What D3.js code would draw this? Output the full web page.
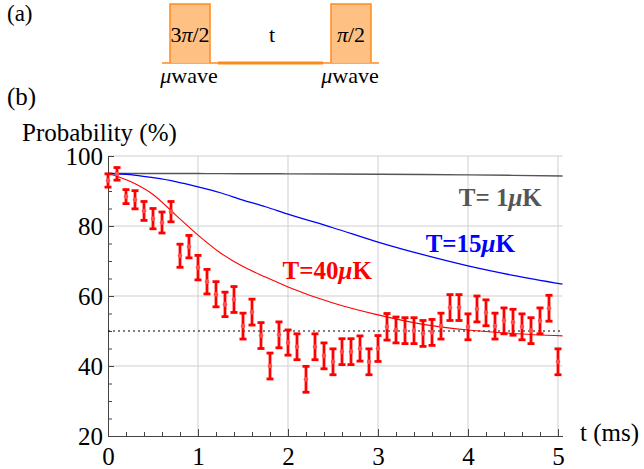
<!DOCTYPE html>
<html>
<head>
<meta charset="utf-8">
<script src="https://cdn.jsdelivr.net/npm/d3@7"></script>
</head>
<body style="margin:0">
<svg id="chart" width="644" height="469"></svg>
<script>
// measured points (t in ms, probability in %)
const times = [0, 0.1, 0.2, 0.3, 0.4, 0.5, 0.6, 0.7, 0.8, 0.9,
    1.0, 1.1, 1.2, 1.3, 1.4, 1.5, 1.6, 1.7, 1.8, 1.9,
    2.0, 2.1, 2.2, 2.3, 2.4, 2.5, 2.6, 2.7, 2.8, 2.9,
    3.0, 3.1, 3.2, 3.3, 3.4, 3.5, 3.6, 3.7, 3.8, 3.9,
    4.0, 4.1, 4.2, 4.3, 4.4, 4.5, 4.6, 4.7, 4.8, 4.9, 5.0];
const probability = [93.0, 94.9, 88.4, 87.5, 84.3, 82.1, 81.0, 84.1, 71.5, 74.1,
    68.1, 64.1, 60.5, 57.6, 59.0, 51.4, 55.4, 48.7, 40.0, 48.9,
    46.7, 45.5, 36.2, 45.5, 42.9, 41.2, 44.1, 44.1, 45.0, 41.2,
    45.0, 51.2, 50.3, 50.1, 50.1, 49.3, 49.6, 51.4, 56.7, 56.7,
    51.2, 56.3, 55.2, 51.4, 52.9, 52.5, 51.2, 50.1, 52.9, 56.5, 41.2];
const errors = [1.9, 1.8, 2.0, 2.6, 2.7, 2.9, 3.0, 2.9, 3.3, 3.2,
    3.5, 3.5, 3.6, 3.5, 3.7, 3.7, 3.7, 3.7, 3.7, 3.7,
    3.6, 3.7, 3.7, 3.7, 3.7, 3.7, 3.7, 3.7, 3.6, 3.7,
    3.7, 3.8, 3.7, 3.7, 3.7, 3.7, 3.7, 3.7, 3.7, 3.7,
    3.7, 3.7, 3.7, 3.7, 3.7, 3.7, 3.7, 3.7, 3.7, 3.7, 3.7];

// model curves
const curveTimes = [0, 0.25, 0.5, 0.75, 1, 1.25, 1.5, 1.75, 2, 2.5, 3, 3.5, 4, 4.5, 5.05];
const curve1uK = [95.0, 95.0, 95.0, 94.99, 94.98, 94.97, 94.95, 94.92, 94.9, 94.85, 94.78, 94.7, 94.6, 94.47, 94.3];
const curve15uK = [95.0, 94.7, 93.8, 92.7, 91.2, 89.5, 87.4, 85.5, 83.4, 79.5, 75.4, 71.8, 68.6, 65.9, 63.4];
const curve40uK = [95.0, 92.7, 89.0, 83.2, 77.4, 72.3, 68.4, 65.4, 62.6, 58.0, 54.6, 51.9, 50.3, 49.3, 48.6];

const xTicks = [0, 1, 2, 3, 4, 5];
const yTicks = [20, 40, 60, 80, 100];
const yGrid = [40, 60, 80, 100];
const xGrid = [1, 2, 3, 4, 5];

const FONT = "\"Times New Roman\", \"Liberation Serif\", \"Nimbus Roman\", FreeSerif";
const FS = 25;

function draw() {
    const svg = d3.select("#chart");
    svg.selectAll("*").remove();

    const x = d3.scaleLinear().domain([0, 5.05]).range([108, 562.5]);
    const y = d3.scaleLinear().domain([20, 100]).range([436, 156]);

    function label(sel, px, py, size) {
        return sel.append("text").
        attr("x", px).
        attr("y", py).
        style("font-family", FONT).
        style("font-size", size + "px");
    }

    // ---- (a) pulse sequence ----
    label(svg, 7, 21, 23).text("(a)");

    const base = 63;
    const seq = svg.append("g");
    seq.append("line").
    attr("x1", 162).attr("x2", 379).attr("y1", base).attr("y2", base).
    attr("stroke", "#ff8a1c").attr("stroke-width", 1.5);
    seq.append("line").
    attr("x1", 218).attr("x2", 323).attr("y1", base).attr("y2", base).
    attr("stroke", "#ff8a1c").attr("stroke-width", 3);

    const pulseStart = [170, 331];
    pulseStart.forEach((x0, i) => {
        seq.append("path").
        attr("d", `M${x0},${base}V4H${x0 + 40}V${base}`).
        attr("fill", "#ffc183").
        attr("stroke", "#ff8a1c").
        attr("stroke-width", 1.5);
        const t = label(seq, x0 + 20, 42, 22).attr("text-anchor", "middle");
        if (i === 0) t.append("tspan").text("3");
        t.append("tspan").style("font-style", "italic").text("\u03c0");
        t.append("tspan").text("/2");
        const w = label(seq, x0 + 19, 83, 22).attr("text-anchor", "middle");
        w.append("tspan").style("font-style", "italic").text("\u03bc");
        w.append("tspan").text("wave");
    });
    label(seq, 272, 42, 22).attr("text-anchor", "middle").text("t");

    // ---- (b) chart ----
    label(svg, 7, 105, FS).text("(b)");
    label(svg, 22, 141, FS).text("Probability (%)");
    label(svg, 580, 441, FS).text("t (ms)");

    // grid
    svg.append("g").
    selectAll("line").
    data(yGrid).
    join("line").
    attr("x1", x.range()[0]).attr("x2", x.range()[1]).
    attr("y1", d => y(d)).attr("y2", d => y(d)).
    attr("stroke", "#cfcfcf").attr("stroke-width", 1);

    svg.append("g").
    selectAll("line").
    data(xGrid).
    join("line").
    attr("x1", d => x(d)).attr("x2", d => x(d)).
    attr("y1", y.range()[0]).attr("y2", y.range()[1]).
    attr("stroke", "#cfcfcf").attr("stroke-width", 1);

    // axes
    const xAxis = svg.append("g").
    attr("transform", `translate(0,${y.range()[0]})`).
    call(d3.axisBottom(x).tickValues(d3.range(0, 5.01, 0.2)).tickSize(-4).tickSizeOuter(0).tickFormat(""));
    xAxis.append("g").call(d3.axisBottom(x).tickValues(xTicks).tickSize(-7).tickSizeOuter(0).tickPadding(11).tickFormat(d3.format("d")));

    const yAxis = svg.append("g").
    attr("transform", `translate(${x.range()[0]},0)`).
    call(d3.axisLeft(y).tickValues(d3.range(20, 100.1, 5)).tickSize(-4).tickSizeOuter(0).tickFormat(""));
    yAxis.append("g").call(d3.axisLeft(y).tickValues(yTicks).tickSize(-6).tickSizeOuter(0).tickPadding(5).tickFormat(d3.format("d")));

    svg.selectAll("g").attr("font-family", null).attr("font-size", null);
    svg.selectAll(".domain, .tick line").attr("stroke", "#444");
    svg.selectAll(".tick text").
    style("font-family", FONT).
    style("font-size", FS + "px").
    attr("fill", "#000");

    // 50% reference
    svg.append("line").
    attr("x1", x.range()[0]).attr("x2", x.range()[1]).
    attr("y1", y(50)).attr("y2", y(50)).
    attr("stroke", "#000").attr("stroke-width", 1).
    attr("stroke-dasharray", "2,3");

    // curves
    const line = d3.line().
    x((d, i) => x(curveTimes[i])).
    y(d => y(d)).
    curve(d3.curveMonotoneX);

    const curves = [
        { values: curve1uK, color: "#555555", width: 1.4 },
        { values: curve15uK, color: "#0000ff", width: 1.3 },
        { values: curve40uK, color: "#ff0000", width: 1.1 }];

    svg.append("g").
    selectAll("path").
    data(curves).
    join("path").
    attr("d", d => line(d.values)).
    attr("fill", "none").
    attr("stroke", d => d.color).
    attr("stroke-width", d => d.width);

    // error bars
    const bars = svg.append("g").
    attr("stroke", "#ff0000").
    attr("stroke-width", 2.8).
    selectAll("g").
    data(probability.map((p, i) => ({ t: times[i], p, e: errors[i] }))).
    join("g");

    bars.append("line").
    attr("x1", d => x(d.t)).attr("x2", d => x(d.t)).
    attr("y1", d => y(d.p - d.e)).attr("y2", d => y(d.p + d.e));
    bars.append("line").
    attr("x1", d => x(d.t) - 3.5).attr("x2", d => x(d.t) + 3.5).
    attr("y1", d => y(d.p + d.e)).attr("y2", d => y(d.p + d.e));
    bars.append("line").
    attr("x1", d => x(d.t) - 3.5).attr("x2", d => x(d.t) + 3.5).
    attr("y1", d => y(d.p - d.e)).attr("y2", d => y(d.p - d.e));
    bars.append("circle").
    attr("cx", d => x(d.t)).attr("cy", d => y(d.p)).
    attr("r", 2.3).
    attr("stroke", "none").
    attr("fill", "#ff5050");

    // curve labels
    const curveLabels = [
        { num: "= 1", t: 4.82, v: 85.7, anchor: "end", color: "#555555" },
        { num: "=15", t: 3.53, v: 72.7, anchor: "start", color: "#0000ff" },
        { num: "=40", t: 1.94, v: 64.8, anchor: "start", color: "#ff0000" }];

    curveLabels.forEach(l => {
        const t = label(svg, x(l.t), y(l.v), FS).
        attr("text-anchor", l.anchor).
        attr("fill", l.color).
        style("font-weight", "bold");
        t.append("tspan").text("T" + l.num);
        t.append("tspan").style("font-style", "italic").text("\u03bc");
        t.append("tspan").text("K");
    });
}

draw();
if (document.fonts && document.fonts.load) {
    document.fonts.load(FS + "px \"Liberation Serif\"").then(draw, () => {});
}
</script>
</body>
</html>
